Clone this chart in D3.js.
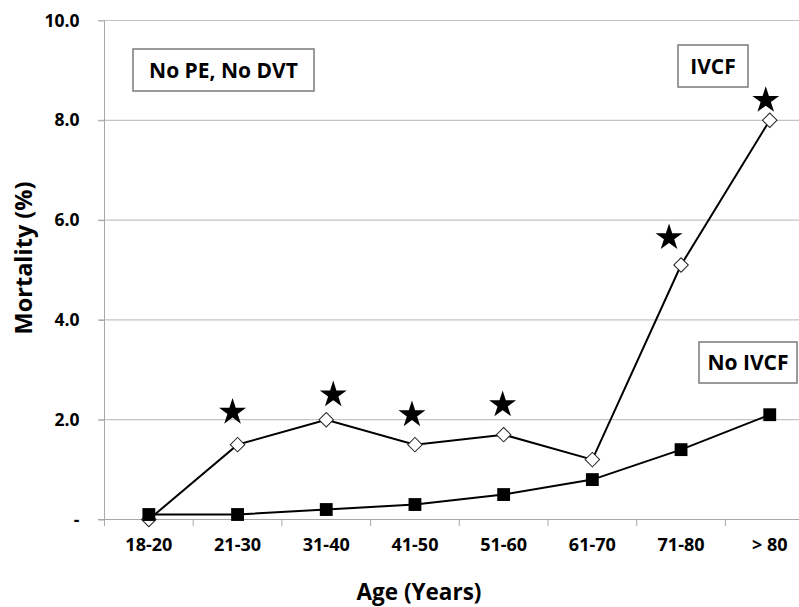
<!DOCTYPE html>
<html>
<head>
<meta charset="utf-8">
<script src="https://cdn.jsdelivr.net/npm/d3@7"></script>
<style>
  body { margin: 0; background: #fff; }
  svg { display: block; font-family: "Open Sans", sans-serif; font-weight: bold; }
</style>
</head>
<body>
<svg></svg>
<script>
// data
const ageGroups = ["18-20", "21-30", "31-40", "41-50", "51-60", "61-70", "71-80", "> 80"]
const ivcf = [0.0, 1.5, 2.0, 1.5, 1.7, 1.2, 5.1, 8.0]
const noIvcf = [0.1, 0.1, 0.2, 0.3, 0.5, 0.8, 1.4, 2.1]
// star marks (significant difference), level in % where each star sits
const starLevel = [null, 2.15, 2.5, 2.1, 2.3, null, 5.65, 8.4]
const yTicks = [0, 2, 4, 6, 8, 10]

const width = 799, height = 607

const svg = d3.select('svg')
    .attr('width', width)
    .attr('height', height)

const x = d3.scaleBand()
    .domain(ageGroups)
    .range([104.5, 104.5 + 8 * 88.7])

const y = d3.scaleLinear()
    .domain([0, 10])
    .range([519.5, 20.5])

const cx = d => x(d) + x.bandwidth() / 2

// horizontal grid
svg.append('g')
    .selectAll('line')
    .data(yTicks)
    .join('line')
    .attr('x1', 98).attr('x2', width)
    .attr('y1', d => y(d)).attr('y2', d => y(d))
    .attr('stroke', d => d === 0 ? '#a8a8a8' : '#c4c4c4')
    .attr('stroke-width', 1.2)

// y axis
const yAxis = svg.append('g')
    .attr('transform', 'translate(104.5,0)')
    .call(d3.axisLeft(y)
        .tickValues(yTicks)
        .tickFormat(d => d === 0 ? '-' : d.toFixed(1))
        .tickSize(6)
        .tickPadding(19))
yAxis.select('.domain').attr('stroke', '#a8a8a8').attr('d', 'M0,20.5V526')
yAxis.selectAll('.tick line').attr('stroke', '#a8a8a8')
yAxis.selectAll('text')
    .attr('font-family', 'Open Sans').attr('font-weight', 'bold')
    .attr('font-size', 17.5).attr('fill', '#000')

// x axis: labels at centres, ticks on band edges
const xAxis = svg.append('g')
    .attr('transform', 'translate(0,519.5)')
    .call(d3.axisBottom(x).tickSize(0).tickPadding(19))
xAxis.select('.domain').remove()
xAxis.selectAll('text')
    .attr('font-family', 'Open Sans').attr('font-weight', 'bold')
    .attr('font-size', 18).attr('fill', '#000')

svg.append('g')
    .selectAll('line')
    .data(ageGroups.slice(1))
    .join('line')
    .attr('x1', d => x(d)).attr('x2', d => x(d))
    .attr('y1', 519.5).attr('y2', 526)
    .attr('stroke', '#a8a8a8')

// axis titles
svg.append('text')
    .attr('x', 419).attr('y', 600)
    .attr('text-anchor', 'middle')
    .attr('font-size', 22.5)
    .attr('fill', '#000')
    .text('Age (Years)')

svg.append('text')
    .attr('transform', 'translate(32,258) rotate(-90)')
    .attr('text-anchor', 'middle')
    .attr('font-size', 23.5)
    .attr('fill', '#000')
    .text('Mortality (%)')

const line = d3.line()
    .x((_, i) => cx(ageGroups[i]))
    .y(d => y(d))

// IVCF series (open diamonds)
svg.append('path')
    .datum(ivcf)
    .attr('d', line)
    .attr('fill', 'none')
    .attr('stroke', '#000')
    .attr('stroke-width', 2)

svg.append('g')
    .selectAll('path')
    .data(ivcf)
    .join('path')
    .attr('d', d3.symbol(d3.symbolSquare, 105))
    .attr('transform', (d, i) => `translate(${cx(ageGroups[i])},${y(d)}) rotate(45)`)
    .attr('fill', '#fff')
    .attr('stroke', '#222')
    .attr('stroke-width', 1)

// No IVCF series (filled squares)
svg.append('path')
    .datum(noIvcf)
    .attr('d', line)
    .attr('fill', 'none')
    .attr('stroke', '#000')
    .attr('stroke-width', 2)

svg.append('g')
    .selectAll('path')
    .data(noIvcf)
    .join('path')
    .attr('d', d3.symbol(d3.symbolSquare, 165))
    .attr('transform', (d, i) => `translate(${cx(ageGroups[i])},${y(d)})`)
    .attr('fill', '#000')

// stars, nudged sideways a little as in the figure
const starNudge = [0, -5, 7, -3, -1, 0, -12, -4]
svg.append('g')
    .selectAll('path')
    .data(starLevel.map((v, i) => ({ v, i })).filter(d => d.v !== null))
    .join('path')
    .attr('d', d3.symbol(d3.symbolStar, 225))
    .attr('transform', d => `translate(${cx(ageGroups[d.i]) + starNudge[d.i]},${y(d.v)})`)
    .attr('fill', '#000')

// label boxes
const boxes = [
    { text: 'No PE, No DVT', x: 133, y: 49, w: 181, h: 42 },
    { text: 'IVCF', x: 678, y: 45, w: 70, h: 42 },
    { text: 'No IVCF', x: 699, y: 342, w: 98, h: 41 }
]
const box = svg.append('g')
    .selectAll('g')
    .data(boxes)
    .join('g')
box.append('rect')
    .attr('x', d => d.x).attr('y', d => d.y)
    .attr('width', d => d.w).attr('height', d => d.h)
    .attr('fill', '#fff')
    .attr('stroke', '#7a7a7a')
    .attr('stroke-width', 1.5)
box.append('text')
    .attr('x', d => d.x + d.w / 2)
    .attr('y', d => d.y + d.h / 2 + 7.5)
    .attr('text-anchor', 'middle')
    .attr('font-size', 21)
    .attr('fill', '#000')
    .text(d => d.text)
</script>
</body>
</html>
